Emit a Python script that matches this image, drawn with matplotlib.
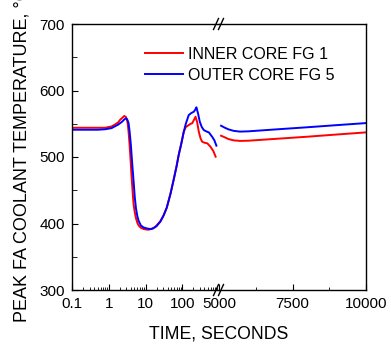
import matplotlib
matplotlib.use('Agg')
import matplotlib.pyplot as plt
from matplotlib.lines import Line2D
from matplotlib.ticker import FixedLocator, NullFormatter

plt.rcParams.update({
    'font.family': ['Liberation Sans', 'DejaVu Sans'],
    'font.size': 11,
    'axes.linewidth': 1.0,
    'xtick.direction': 'in',
    'ytick.direction': 'in',
    'xtick.major.size': 4.5,
    'xtick.minor.size': 2.5,
    'ytick.major.size': 4.5,
    'ytick.minor.size': 3.5,
})

# ---------------------------------------------------------------------------
# Data
# ---------------------------------------------------------------------------
# early transient, log time axis
t_early_inner = [0.1, 0.5, 0.8, 1.2, 1.5, 1.8, 2.05, 2.35, 2.64, 2.9, 3.13,
                 3.3, 3.46, 3.65, 3.85, 4.05, 4.27, 4.5, 4.75, 5.1, 5.5, 6.0,
                 6.5, 7.5, 8.9, 10.5, 12.1, 15, 18.5, 25, 31, 38, 48, 58.5,
                 70, 80, 95, 110, 125, 150, 170, 186, 205, 230, 255, 282,
                 315, 348, 400, 480, 585, 700, 810]
T_early_inner = [544, 544, 544, 546, 549, 552, 556, 559, 561.7, 560.5, 557,
                 549, 538, 522, 503, 483, 463, 445, 428, 417, 408, 401,
                 397, 393.5, 391.7, 391, 390.7, 392, 395, 403, 412, 424, 445,
                 466, 486, 503, 521, 538, 545, 548, 550, 550.7, 555, 560.6,
                 552, 538, 528, 523, 521.5, 520.6, 515.5, 509, 500.5]

t_early_outer = [0.1, 0.5, 0.8, 1.2, 1.84, 2.3, 2.65, 2.93, 3.2, 3.46, 3.7,
                 4.0, 4.35, 4.75, 5.1, 5.5, 6.0, 6.5, 7.5, 8.9, 11, 13.5, 16,
                 20, 25.5, 31, 38, 48, 58.5, 70, 80, 95, 110, 125, 136, 150,
                 175, 205, 225, 243, 270, 300, 340, 385, 450, 530, 650, 750,
                 850]
T_early_outer = [541, 541, 541.7, 543.5, 549, 553, 556.5, 558, 556, 551, 538,
                 518, 490, 463, 440, 423, 411, 404, 397, 394, 392.5, 391.7,
                 392.5, 396, 403, 412, 424, 445, 466, 486, 503, 521, 538, 550,
                 556, 563, 566, 568, 571, 574.7, 565, 553, 545, 540.6, 538.5,
                 537, 530.5, 525, 517]

# late transient, linear time axis
t_late = [5070, 5200, 5320, 5500, 5714, 6000, 7000, 8000, 9000, 10000]
T_late_inner = [532, 529.5, 527, 525, 524.2, 524.5, 527.5, 530.5, 533.8, 537]
T_late_outer = [547, 544, 541.6, 539.3, 538.2, 538.6, 541.7, 544.7, 547.9, 551]

early_ticks = [0.1, 1, 10, 100]
early_labels = ['0.1', '1', '10', '100']
late_ticks = [5000, 7500, 10000]
late_minor = [6250, 8750]

RED = '#ff0000'
BLUE = '#0000ff'
LW = 1.4

# ---------------------------------------------------------------------------
# Figure: two panels butted together with a broken time axis
# ---------------------------------------------------------------------------
fig = plt.figure(figsize=(3.91, 3.45), dpi=100)
W, H = 391.0, 345.0
left, brk, right = 72 / W, 219 / W, 366 / W
bottom, top = 1 - 290 / H, 1 - 24 / H

ax1 = fig.add_axes([left, bottom, brk - left, top - bottom])
ax2 = fig.add_axes([brk, bottom, right - brk, top - bottom], sharey=ax1)

ax1.plot(t_early_inner, T_early_inner, color=RED, lw=LW)
ax1.plot(t_early_outer, T_early_outer, color=BLUE, lw=LW)
ax2.plot(t_late, T_late_inner, color=RED, lw=LW)
ax2.plot(t_late, T_late_outer, color=BLUE, lw=LW)

ax1.set_xscale('log')
ax1.set_xlim(0.1, 1000)
ax1.set_xticks(early_ticks)
ax1.set_xticklabels(early_labels)
minor = [m * 10.0 ** e for e in range(-1, 3) for m in range(2, 10)]
ax1.xaxis.set_minor_locator(FixedLocator(minor))
ax1.xaxis.set_minor_formatter(NullFormatter())

ax1.set_ylim(300, 700)
ax1.set_yticks(range(300, 701, 100))
ax1.yaxis.set_minor_locator(FixedLocator(range(350, 700, 100)))

ax2.set_xlim(5000, 10000)
ax2.set_xticks(late_ticks)
ax2.xaxis.set_minor_locator(FixedLocator(late_minor))
ax2.tick_params(axis='y', which='both', left=False, labelleft=False)

ax1.spines['right'].set_visible(False)
ax2.spines['left'].set_visible(False)
for ax in (ax1, ax2):
    ax.tick_params(axis='x', which='both', top=False, pad=5)
    ax.tick_params(axis='y', which='both', right=False)
ax1.tick_params(axis='y', pad=5)

# break marks "//" on top and bottom spines
for yb in (top, bottom):
    for dx in (-3.0, 2.0):
        x0 = (219 + dx - 2.5) / W
        x1 = (219 + dx + 2.5) / W
        fig.add_artist(Line2D([x0, x1], [yb - 5.5 / H, yb + 5.5 / H],
                              color='black', lw=1.0))

# labels
fig.text(219 / W, 1 - 334 / H, 'TIME, SECONDS', ha='center', va='center',
         fontsize=12.7)
fig.text(22 / W, 1 - 322 / H, 'PEAK FA COOLANT TEMPERATURE, \u00b0C',
         rotation=90, ha='center', va='bottom', fontsize=13)

handles = [Line2D([], [], color=RED, lw=LW), Line2D([], [], color=BLUE, lw=LW)]
fig.legend(handles, ['INNER CORE FG 1', 'OUTER CORE FG 5'],
           loc='upper left', bbox_to_anchor=(145 / W, 1 - 47 / H),
           frameon=False, fontsize=11.5, borderpad=0, borderaxespad=0,
           handlelength=2.4, handletextpad=0.3, labelspacing=0.35)

fig.savefig('out.png', dpi=100)
